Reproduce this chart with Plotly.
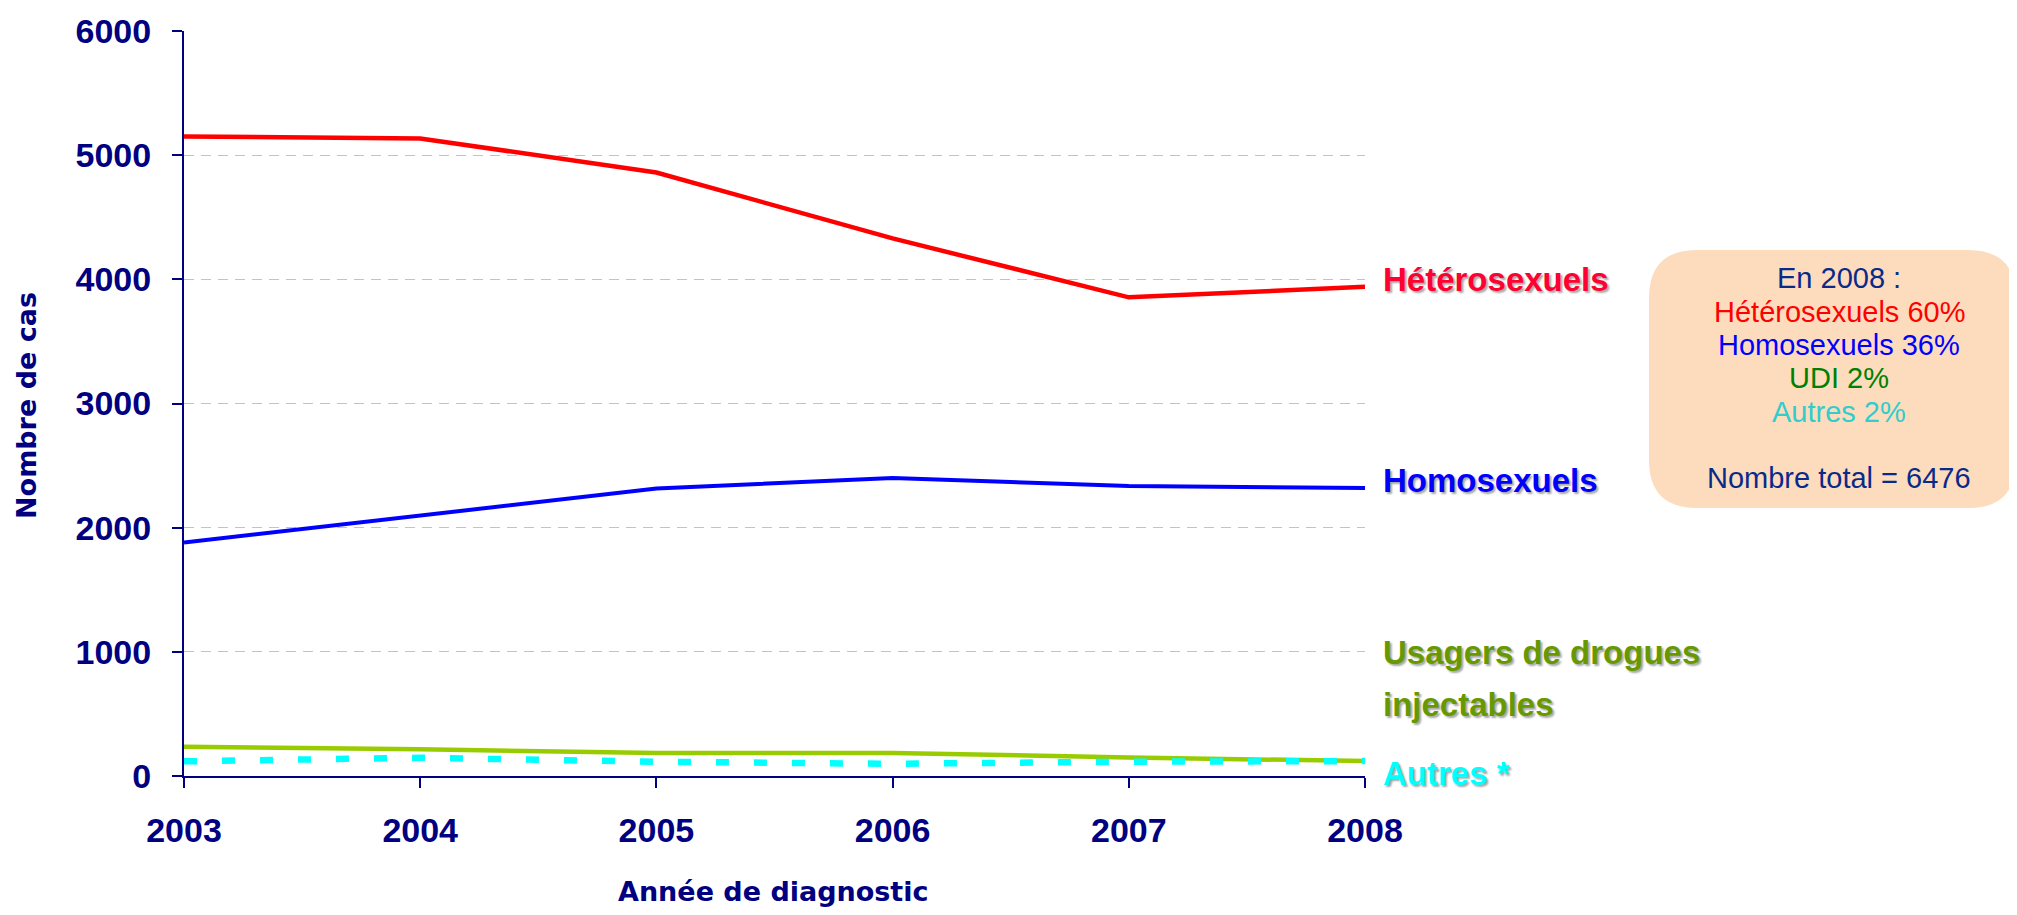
import plotly.graph_objects as go

years = [2003, 2004, 2005, 2006, 2007, 2008]
hetero = [5150, 5135, 4860, 4330, 3855, 3940]
homo = [1880, 2095, 2315, 2400, 2335, 2320]
udi = [235, 215, 185, 185, 150, 120]
autres = [118, 147, 115, 98, 115, 120]

y_ticks = [0, 1000, 2000, 3000, 4000, 5000, 6000]
x_ticks = years

NAVY = "#000080"
OFF = 8  # default body margin of the html page
W, H = 2017 - 2 * OFF, 915 - 2 * OFF
L = 184 - OFF
T = 31 - OFF
R = W - (1365 - OFF)
B = H - (776 - OFF)
PW, PH = W - L - R, H - T - B


def px_x(xp):
    return (xp - OFF - L) / PW


def px_y(yp):
    return (H - B - (yp - OFF)) / PH


fig = go.Figure()
fig.add_trace(go.Scatter(x=years, y=hetero, mode="lines", line=dict(color="#FF0000", width=4.5), name="Hétérosexuels"))
fig.add_trace(go.Scatter(x=years, y=homo, mode="lines", line=dict(color="#0000FF", width=4), name="Homosexuels"))
fig.add_trace(go.Scatter(x=years, y=udi, mode="lines", line=dict(color="#99CC00", width=4.5), name="UDI"))
fig.add_trace(go.Scatter(x=years, y=autres, mode="lines", line=dict(color="#00FFFF", width=6.5, dash="13px,25px"), name="Autres"))

tick_font = dict(family="Liberation Sans, Arial, sans-serif", size=34, color=NAVY, weight="bold")
fig.update_xaxes(range=[2003, 2008], tickvals=x_ticks, ticktext=[str(v) for v in x_ticks],
                 showline=True, linecolor=NAVY, linewidth=2, ticks="outside", ticklen=10,
                 tickcolor=NAVY, tickwidth=2, showgrid=False, zeroline=False,
                 tickfont=tick_font, ticklabelstandoff=13)
fig.update_yaxes(range=[0, 6000], tickvals=y_ticks, ticktext=[str(v) for v in y_ticks],
                 showline=True, linecolor=NAVY, linewidth=2, ticks="outside", ticklen=10,
                 tickcolor=NAVY, tickwidth=2, showgrid=True, gridcolor="#99CCFF", gridwidth=1,
                 griddash="10px,7px", zeroline=False, tickfont=tick_font, ticklabelstandoff=14)

title_font = dict(family="DejaVu Sans, sans-serif", size=27, color=NAVY, weight="bold")
annotations = [
    dict(text="Nombre de cas", x=px_x(26), y=px_y(406), xref="paper", yref="paper",
         textangle=-90, showarrow=False, font=title_font, xanchor="center", yanchor="middle"),
    dict(text="Année de diagnostic", x=px_x(773), y=px_y(891), xref="paper", yref="paper",
         showarrow=False, font=title_font, xanchor="center", yanchor="middle"),
]

lab_family = "Liberation Sans, Arial, sans-serif"
shadow = "2px 2px 2px rgba(0,0,0,0.35)"
labels = [
    ("Hétérosexuels", "#FF0033", 279),
    ("Homosexuels", "#0000FF", 480),
    ("Usagers de drogues", "#669900", 652),
    ("injectables", "#669900", 704),
    ("Autres *", "#00FFFF", 773),
]
for txt, col, yp in labels:
    annotations.append(dict(text=txt, x=px_x(1381), y=px_y(yp), xref="paper", yref="paper",
                            showarrow=False, xanchor="left", yanchor="middle",
                            font=dict(family=lab_family, size=33, color=col, weight="bold", shadow=shadow)))

# info box
x0, x1 = px_x(1649), px_x(2016)
y0, y1 = px_y(508), px_y(250)
rx, ry = 48 / PW, 48 / PH
path = (f"M {x0+rx},{y0} L {x1-rx},{y0} Q {x1},{y0} {x1},{y0+ry} L {x1},{y1-ry} "
        f"Q {x1},{y1} {x1-rx},{y1} L {x0+rx},{y1} Q {x0},{y1} {x0},{y1-ry} "
        f"L {x0},{y0+ry} Q {x0},{y0} {x0+rx},{y0} Z")
shapes = [dict(type="path", path=path, xref="paper", yref="paper",
               fillcolor="#FCDCBD", line=dict(width=0), layer="below")]

box_lines = [
    ("En 2008 :", "#0A2A8A", 278),
    ("Hétérosexuels 60%", "#FF0000", 312),
    ("Homosexuels 36%", "#0000FF", 345),
    ("UDI 2%", "#008000", 378),
    ("Autres 2%", "#33CCCC", 412),
    ("Nombre total = 6476", "#0A2A8A", 478),
]
box_family = "Liberation Sans, Arial, sans-serif"
for txt, col, yp in box_lines:
    annotations.append(dict(text=txt, x=px_x(1839), y=px_y(yp), xref="paper", yref="paper",
                            showarrow=False, xanchor="center", yanchor="middle",
                            font=dict(family=box_family, size=29, color=col)))

fig.update_layout(width=W, height=H, margin=dict(l=L, r=R, t=T, b=B, autoexpand=False),
                  plot_bgcolor="white", paper_bgcolor="white", showlegend=False,
                  annotations=annotations, shapes=shapes)

fig.write_html("out.html")
